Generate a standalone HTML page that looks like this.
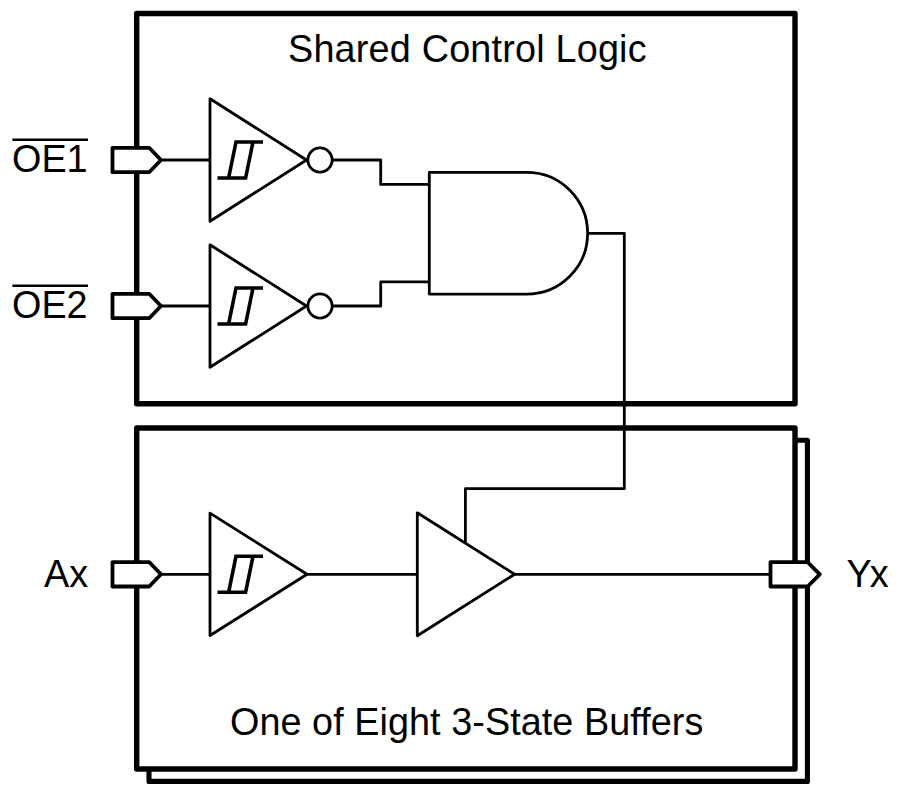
<!DOCTYPE html>
<html lang="en">
<head>
<meta charset="utf-8">
<title>Logic Diagram</title>
<style>
  html, body { margin: 0; padding: 0; background: #ffffff; }
  body { width: 900px; height: 794px; overflow: hidden; }
  svg { display: block; }
  text { font-family: "Liberation Sans", Arial, sans-serif; fill: #000; }
  .box { fill: #fff; stroke: #000; stroke-width: 5.4; stroke-linejoin: round; }
  .thin { fill: none; stroke: #000; stroke-width: 2.8; stroke-linejoin: round; stroke-linecap: butt; }
  .gate { fill: #fff; stroke: #000; stroke-width: 2.8; stroke-linejoin: round; }
  .hys { fill: none; stroke: #000; stroke-width: 3.6; stroke-linecap: butt; stroke-linejoin: miter; }
  .port { fill: #fff; stroke: #000; stroke-width: 3.8; stroke-linejoin: round; }
</style>
</head>
<body>
<svg width="900" height="794" viewBox="0 0 900 794">
  <rect x="0" y="0" width="900" height="794" fill="#ffffff"/>

  <!-- Shared control logic box -->
  <rect class="box" x="136.7" y="13.5" width="658.3" height="390.2"/>

  <!-- stacked buffer boxes -->
  <rect class="box" x="149" y="440.3" width="658.4" height="341.1" style="stroke-width:5.1"/>
  <rect class="box" x="136.7" y="428" width="658.3" height="341"/>

  <!-- titles -->
  <text id="t1" transform="translate(288 61.8) scale(1 1.045)" x="0" y="0" font-size="37.8" textLength="358.6" lengthAdjust="spacing">Shared Control Logic</text>
  <text id="t2" transform="translate(230 734.5) scale(1 1.045)" x="0" y="0" font-size="37.8" textLength="473.3" lengthAdjust="spacing">One of Eight 3-State Buffers</text>

  <!-- wires: top section -->
  <path class="thin" d="M160 160 H209.5"/>
  <path class="thin" d="M160 306 H209.5"/>
  <path class="thin" d="M332 160 H380.7 V184.4 H429.3"/>
  <path class="thin" d="M332 306 H380.7 V281.9 H429.3"/>
  <path class="thin" d="M587 233.3 H624.3 V488.7 H465.4 V545"/>

  <!-- wires: bottom section -->
  <path class="thin" d="M160 574.3 H209.5"/>
  <path class="thin" d="M305 574.3 H417.3"/>
  <path class="thin" d="M514 574.3 H770"/>

  <!-- inverter 1 -->
  <path class="gate" d="M210 98.8 L306.5 160 L210 221.2 Z"/>
  <circle class="gate" cx="320" cy="160" r="12.15"/>
  <path class="hys" d="M263 142 H236 L228.3 179.5 M217.5 178 H245.6 L253.3 140.5"/>

  <!-- inverter 2 -->
  <path class="gate" d="M210 244.8 L306.5 306 L210 367.2 Z"/>
  <circle class="gate" cx="320" cy="306" r="12.15"/>
  <path class="hys" d="M263 288 H236 L228.3 325.5 M217.5 324 H245.6 L253.3 286.5"/>

  <!-- AND gate -->
  <path class="gate" d="M429.3 172.4 H526.8 A60.85 60.85 0 0 1 526.8 294.1 H429.3 Z"/>

  <!-- schmitt buffer -->
  <path class="gate" d="M210 513.1 L307 574.3 L210 635.5 Z"/>
  <path class="hys" d="M263 556.3 H236 L228.3 593.8 M217.5 592.3 H245.6 L253.3 554.8"/>

  <!-- 3-state buffer -->
  <path class="gate" d="M417.3 512.8 L514.6 574.3 L417.3 635.8 Z"/>

  <!-- ports -->
  <path class="port" d="M112.5 147.8 H149.2 L161 160 L149.2 172.2 H112.5 Z"/>
  <path class="port" d="M112.5 293.8 H149.2 L161 306 L149.2 318.2 H112.5 Z"/>
  <path class="port" d="M112.5 562.1 H149.2 L161 574.3 L149.2 586.5 H112.5 Z"/>
  <path class="port" d="M770.5 562.1 H807.6 L819.8 574.3 L807.6 586.5 H770.5 Z"/>

  <!-- labels -->
  <text id="l1" transform="translate(12 172) scale(1 1.045)" x="0" y="0" font-size="37.8">OE1</text>
  <path d="M12.4 139.7 H88" stroke="#000" stroke-width="2.4" fill="none"/>
  <text id="l2" transform="translate(12 318) scale(1 1.045)" x="0" y="0" font-size="37.8">OE2</text>
  <path d="M12.4 285.7 H88" stroke="#000" stroke-width="2.4" fill="none"/>
  <text id="l3" transform="translate(44 587.4) scale(1 1.045)" x="0" y="0" font-size="37.8">Ax</text>
  <text id="l4" transform="translate(846.6 587.4) scale(1 1.045)" x="0" y="0" font-size="37.8">Y<tspan dx="-2">x</tspan></text>
</svg>
</body>
</html>
